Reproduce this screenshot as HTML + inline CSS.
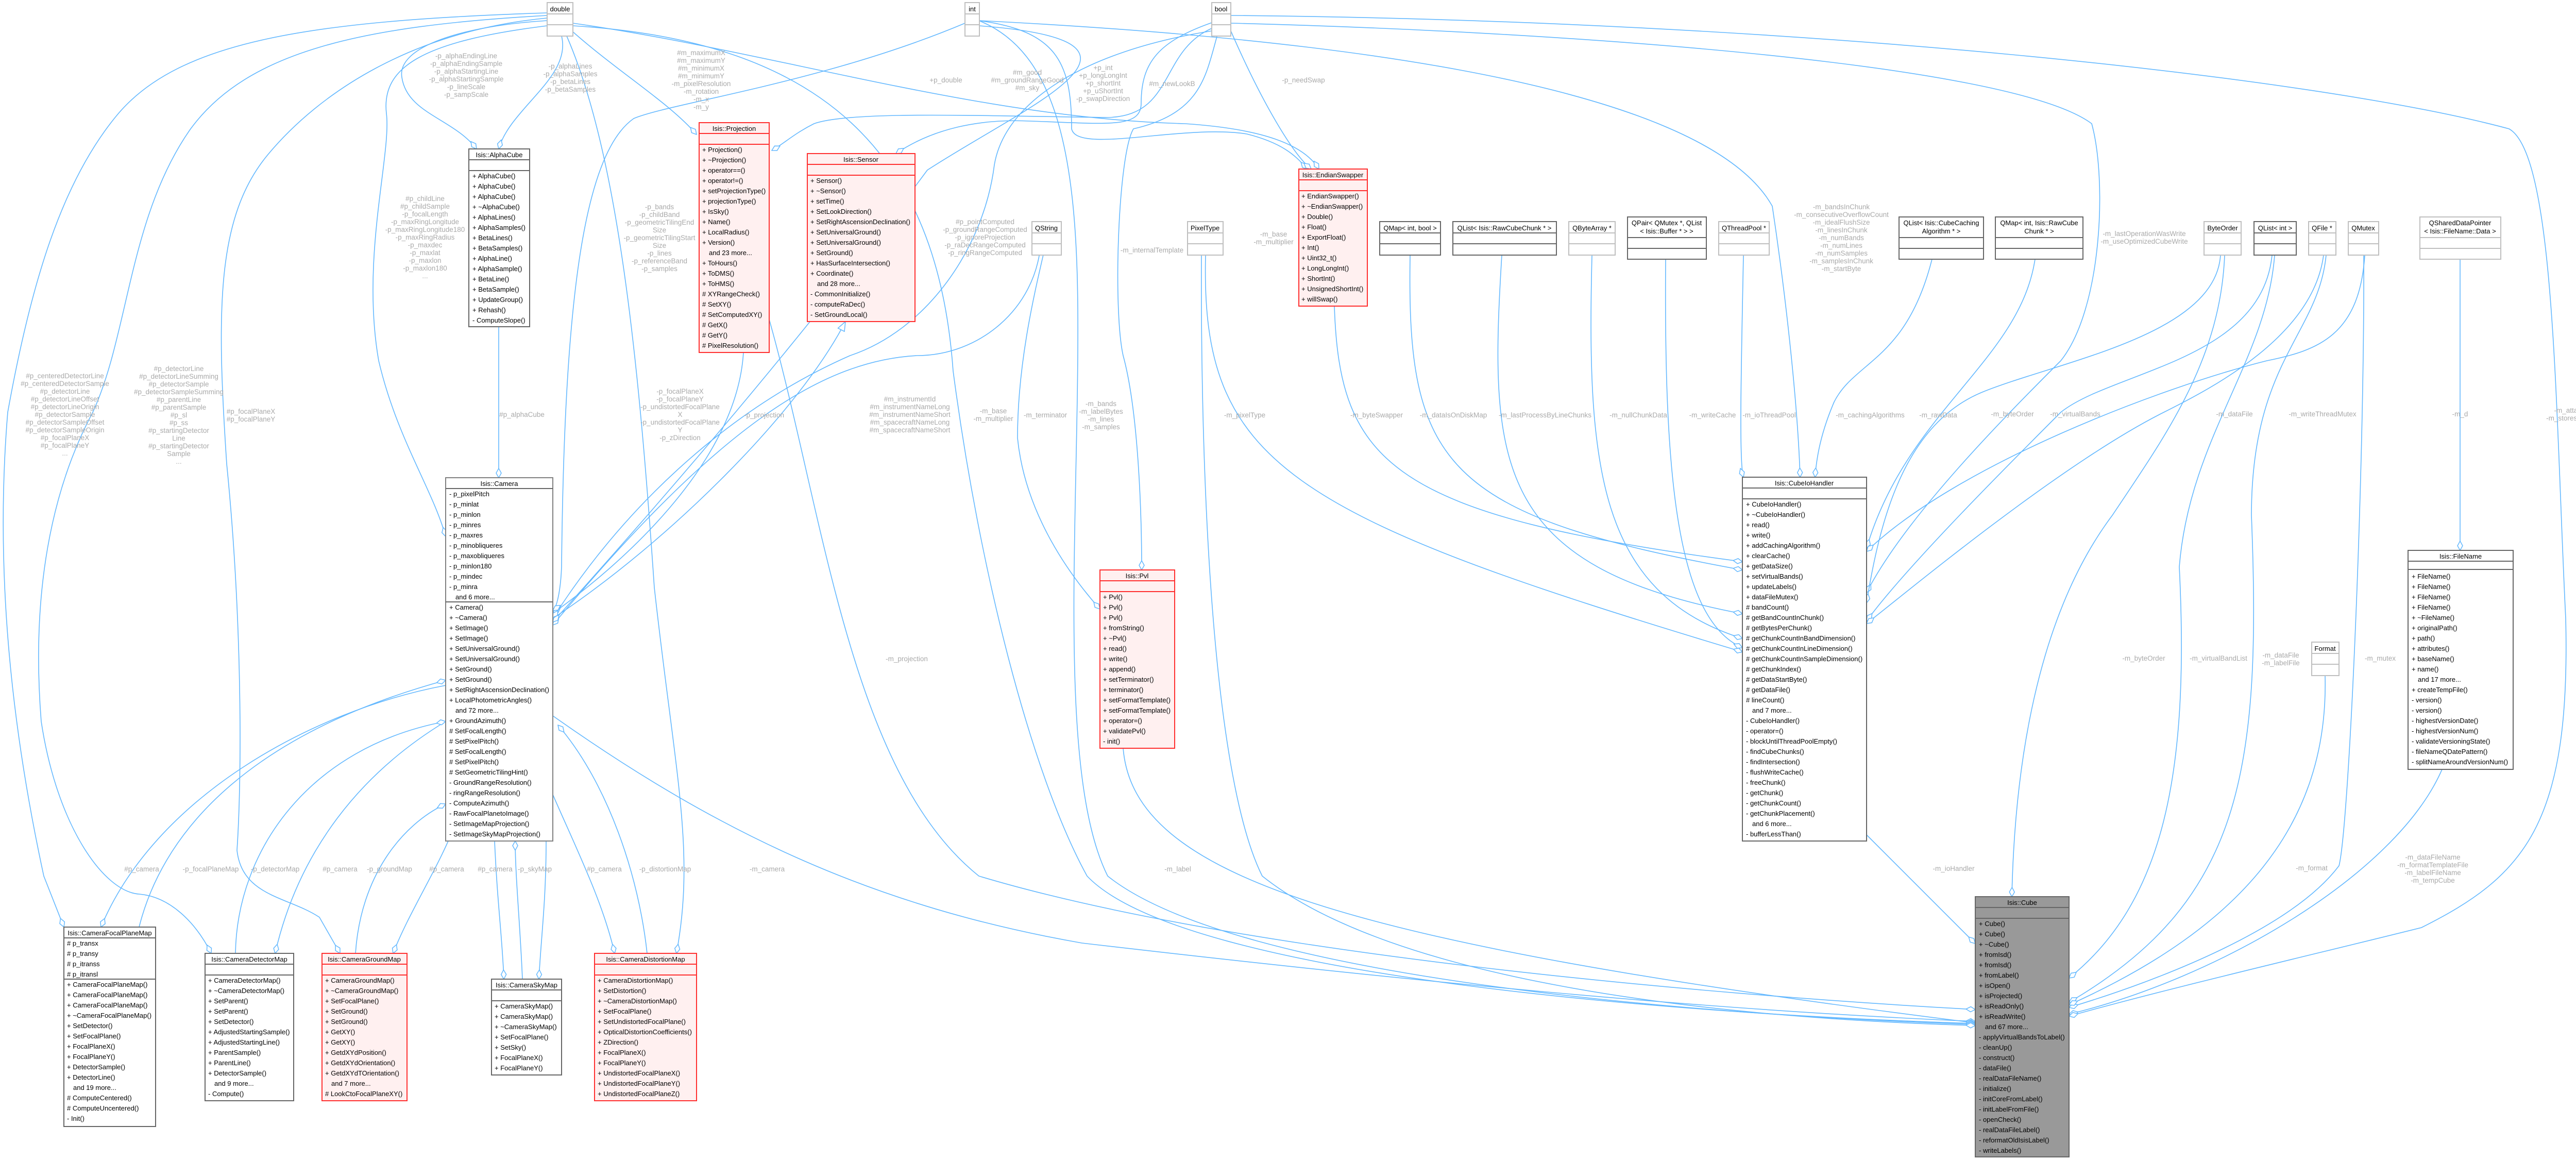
<!DOCTYPE html>
<html><head><meta charset="utf-8"><style>
html,body{margin:0;padding:0;background:#fff;}
svg{display:block;}
.t{font-family:"Liberation Sans",sans-serif;font-size:13px;fill:#000;}
.c{text-anchor:middle;}
.l{font-family:"Liberation Sans",sans-serif;font-size:13.5px;fill:#aaaaaa;text-anchor:middle;}
.e{fill:none;stroke:#63b8ff;stroke-width:1.6;}
.g{fill:#fff;stroke:#bfbfbf;stroke-width:2;}
.k{fill:#fff;stroke:#666;stroke-width:2;}
.r{fill:#fff0f0;stroke:#ff3030;stroke-width:2;}
.cu{fill:#999;stroke:#666;stroke-width:2;}
.sg{stroke:#bfbfbf;stroke-width:2;}
.sk{stroke:#666;stroke-width:2;}
.sr{stroke:#ff3030;stroke-width:2;}
</style></head><body>
<svg width="5049" height="2251" viewBox="0 0 5049 2251" xmlns="http://www.w3.org/2000/svg">
<defs>
<marker id="d" markerWidth="20" markerHeight="12" refX="19" refY="6" orient="auto" markerUnits="userSpaceOnUse"><path d="M1,6 L10,1 L19,6 L10,11 Z" fill="#fff" stroke="#63b8ff" stroke-width="1.5"/></marker>
<marker id="tri" markerWidth="20" markerHeight="16" refX="19" refY="8" orient="auto" markerUnits="userSpaceOnUse"><path d="M1,1 L19,8 L1,15 Z" fill="#fff" stroke="#63b8ff" stroke-width="1.5"/></marker>
</defs>

<!-- EDGES -->
<g class="e" marker-end="url(#d)">
<path d="M1090,70 C1110,150 990,210 968,289"/>
<path d="M1062,40 C900,50 770,90 780,150 C790,220 880,230 925,289"/>
<path d="M1062,50 C820,80 740,130 750,220 C760,300 700,500 735,700 C770,850 840,950 865,1041"/>
<path d="M1062,25 C600,40 350,80 230,220 C120,350 60,550 15,800 C-10,1100 20,1400 85,1700 L124,1799"/>
<path d="M1062,30 C700,50 480,100 370,250 C250,420 250,650 180,800 C100,950 60,1150 80,1400 C110,1600 200,1730 270,1735 C330,1740 380,1790 410,1850"/>
<path d="M1062,35 C800,60 620,180 520,300 C420,420 420,600 440,900 C470,1200 470,1500 460,1650 C470,1740 560,1740 620,1780 L660,1850"/>
<path d="M1110,60 C1200,140 1300,200 1352,261"/>
<path d="M1100,70 C1200,300 1240,700 1270,1140 C1310,1500 1350,1650 1313,1850"/>
<path d="M968,634 L968,927"/>
<path d="M1443,684 C1430,900 1200,1100 1073,1190"/>
<path d="M1873,45 C1600,160 1300,200 1230,230 C1130,300 1095,600 1090,1100 C1088,1150 1080,1180 1073,1185"/>
<path d="M2352,44 C2250,80 2215,120 2215,200 C2215,250 2150,240 2000,235 C1900,230 1810,250 1739,298"/>
<path d="M2352,55 C2250,100 2280,225 2150,228 C1900,225 1650,215 1580,240 C1540,260 1520,280 1498,292"/>
<path d="M2020,473 C2010,600 1900,690 1780,690 C1600,700 1400,820 1073,1213"/>
<path d="M2352,60 C2100,100 1950,200 1930,320 C1910,480 1800,640 1650,690 C1400,800 1200,1000 1073,1200"/>
<path d="M1900,50 C2300,80 2000,200 1800,330 C1600,600 1350,900 1073,1207"/>
<path d="M865,1330 C600,1380 300,1550 196,1799"/>
<path d="M270,1799 C320,1600 500,1420 865,1320"/>
<path d="M865,1400 C700,1500 580,1650 534,1850"/>
<path d="M457,1850 C460,1650 600,1450 865,1400"/>
<path d="M870,1632 C840,1700 790,1780 763,1850"/>
<path d="M690,1850 C700,1700 780,1600 865,1560"/>
<path d="M960,1632 C965,1750 975,1820 978,1900"/>
<path d="M1060,1632 C1060,1750 1050,1820 1046,1900"/>
<path d="M1014,1900 C1010,1800 1000,1700 1000,1632"/>
<path d="M1073,1542 C1120,1650 1170,1750 1193,1850"/>
<path d="M1256,1850 C1240,1700 1180,1520 1083,1407"/>
<path d="M1900,40 C2050,60 2080,120 2080,250 C2090,300 2300,240 2420,260 C2500,280 2520,310 2538,328"/>
<path d="M1112,45 C1500,100 1900,230 2300,240 C2450,250 2530,280 2560,328"/>
<path d="M2389,60 C2450,200 2510,300 2545,328"/>
<path d="M2030,473 C2010,560 1975,700 1975,850 C1990,1000 2080,1120 2135,1182"/>
<path d="M2362,71 C2340,150 2330,220 2200,250 C2170,300 2160,600 2180,690 C2210,800 2216,1000 2216,1106"/>
<path d="M2737,495 C2730,900 2800,1000 3382,1106"/>
<path d="M2915,495 C2890,900 2900,1100 3382,1191"/>
<path d="M3090,495 C3080,900 3100,1150 3382,1239"/>
<path d="M3233,503 C3230,900 3250,1200 3382,1257"/>
<path d="M3384,495 C3380,700 3375,900 3384,926"/>
<path d="M2590,594 C2600,900 2700,1000 3382,1090"/>
<path d="M2340,495 C2330,900 2500,1000 3382,1265"/>
<path d="M1900,40 C2500,70 3300,150 3440,400 C3470,600 3490,800 3494,926"/>
<path d="M3750,503 C3700,700 3600,700 3560,780 C3530,850 3525,900 3523,926"/>
<path d="M3950,503 C3920,700 3700,800 3623,1064"/>
<path d="M2389,45 C3000,60 3900,120 4060,240 C4090,350 4080,600 4000,700 C3900,800 3700,1000 3623,1150"/>
<path d="M4310,495 C4300,650 4000,700 3850,760 C3700,820 3650,1000 3623,1170"/>
<path d="M4410,495 C4390,700 4100,720 4000,800 C3900,900 3700,1100 3623,1205"/>
<path d="M4510,495 C4490,650 4300,750 4200,800 C4000,900 3700,1150 3623,1210"/>
<path d="M4590,495 C4580,650 4500,680 4400,700 C4200,750 3800,900 3623,1070"/>
<path d="M4318,495 C4310,700 4200,850 4100,1000 C3950,1200 3910,1500 3905,1740"/>
<path d="M4415,495 C4400,700 4250,850 4230,1100 C4250,1500 4200,1750 4016,1898"/>
<path d="M4515,495 C4500,650 4370,700 4370,1000 C4390,1500 4350,1750 4016,1945"/>
<path d="M4588,495 C4590,900 4560,1600 4540,1680 C4450,1800 4200,1900 4016,1955"/>
<path d="M4513,1312 C4520,1600 4350,1800 4016,1950"/>
<path d="M4740,1493 C4650,1700 4300,1900 4016,1968"/>
<path d="M2389,30 C3500,40 4500,150 4870,250 C4960,300 4960,800 4980,1200 C4990,1600 4900,1700 4700,1800 C4500,1850 4200,1920 4016,1972"/>
<path d="M4775,503 L4775,1068"/>
<path d="M3623,1620 L3834,1831"/>
<path d="M1493,620 C1600,1000 1650,1500 1900,1700 C2400,1850 3300,1930 3834,1959"/>
<path d="M1073,1389 C1400,1620 1700,1760 2100,1830 C2700,1900 3300,1960 3834,1982"/>
<path d="M2180,1452 C2200,1700 2600,1830 3834,1985"/>
<path d="M1112,50 C1600,80 1820,300 1850,720 C1900,1100 2000,1500 2110,1700 C2300,1900 3300,1970 3834,1986"/>
<path d="M1900,40 C2050,100 2090,300 2092,600 C2095,1000 2050,1500 2150,1700 C2400,1900 3300,1970 3834,1988"/>
<path d="M2332,495 C2330,900 2350,1500 2450,1700 C2700,1900 3300,1975 3834,1990"/>
</g>
<path class="e" marker-end="url(#tri)" d="M1073,1200 C1300,1050 1550,800 1641,624"/>

<!-- LABELS -->
<text class="l" x="1107" y="133">-p_alphaLines<tspan x="1107" dy="15">-p_alphaSamples</tspan><tspan x="1107" dy="15">-p_betaLines</tspan><tspan x="1107" dy="15">-p_betaSamples</tspan></text>
<text class="l" x="905" y="113">-p_alphaEndingLine<tspan x="905" dy="15">-p_alphaEndingSample</tspan><tspan x="905" dy="15">-p_alphaStartingLine</tspan><tspan x="905" dy="15">-p_alphaStartingSample</tspan><tspan x="905" dy="15">-p_lineScale</tspan><tspan x="905" dy="15">-p_sampScale</tspan></text>
<text class="l" x="1361" y="107">#m_maximumX<tspan x="1361" dy="15">#m_maximumY</tspan><tspan x="1361" dy="15">#m_minimumX</tspan><tspan x="1361" dy="15">#m_minimumY</tspan><tspan x="1361" dy="15">-m_pixelResolution</tspan><tspan x="1361" dy="15">-m_rotation</tspan><tspan x="1361" dy="15">-m_x</tspan><tspan x="1361" dy="15">-m_y</tspan></text>
<text class="l" x="1836" y="160">+p_double</text>
<text class="l" x="1994" y="145">#m_good<tspan x="1994" dy="15">#m_groundRangeGood</tspan><tspan x="1994" dy="15">#m_sky</tspan></text>
<text class="l" x="2141" y="136">+p_int<tspan x="2141" dy="15">+p_longLongInt</tspan><tspan x="2141" dy="15">+p_shortInt</tspan><tspan x="2141" dy="15">+p_uShortInt</tspan><tspan x="2141" dy="15">-p_swapDirection</tspan></text>
<text class="l" x="2275" y="167">#m_newLookB</text>
<text class="l" x="2530" y="160">-p_needSwap</text>
<text class="l" x="825" y="390">#p_childLine<tspan x="825" dy="15">#p_childSample</tspan><tspan x="825" dy="15">-p_focalLength</tspan><tspan x="825" dy="15">-p_maxRingLongitude</tspan><tspan x="825" dy="15">-p_maxRingLongitude180</tspan><tspan x="825" dy="15">-p_maxRingRadius</tspan><tspan x="825" dy="15">-p_maxdec</tspan><tspan x="825" dy="15">-p_maxlat</tspan><tspan x="825" dy="15">-p_maxlon</tspan><tspan x="825" dy="15">-p_maxlon180</tspan><tspan x="825" dy="15">...</tspan></text>
<text class="l" x="1280" y="406">-p_bands<tspan x="1280" dy="15">-p_childBand</tspan><tspan x="1280" dy="15">-p_geometricTilingEnd</tspan><tspan x="1280" dy="15">Size</tspan><tspan x="1280" dy="15">-p_geometricTilingStart</tspan><tspan x="1280" dy="15">Size</tspan><tspan x="1280" dy="15">-p_lines</tspan><tspan x="1280" dy="15">-p_referenceBand</tspan><tspan x="1280" dy="15">-p_samples</tspan></text>
<text class="l" x="1912" y="435">#p_pointComputed<tspan x="1912" dy="15">-p_groundRangeComputed</tspan><tspan x="1912" dy="15">-p_ignoreProjection</tspan><tspan x="1912" dy="15">-p_raDecRangeComputed</tspan><tspan x="1912" dy="15">-p_ringRangeComputed</tspan></text>
<text class="l" x="2236" y="490">-m_internalTemplate</text>
<text class="l" x="2472" y="459">-m_base<tspan x="2472" dy="15">-m_multiplier</tspan></text>
<text class="l" x="3574" y="406">-m_bandsInChunk<tspan x="3574" dy="15">-m_consecutiveOverflowCount</tspan><tspan x="3574" dy="15">-m_idealFlushSize</tspan><tspan x="3574" dy="15">-m_linesInChunk</tspan><tspan x="3574" dy="15">-m_numBands</tspan><tspan x="3574" dy="15">-m_numLines</tspan><tspan x="3574" dy="15">-m_numSamples</tspan><tspan x="3574" dy="15">-m_samplesInChunk</tspan><tspan x="3574" dy="15">-m_startByte</tspan></text>
<text class="l" x="4162" y="458">-m_lastOperationWasWrite<tspan x="4162" dy="15">-m_useOptimizedCubeWrite</tspan></text>
<text class="l" x="126" y="734">#p_centeredDetectorLine<tspan x="126" dy="15">#p_centeredDetectorSample</tspan><tspan x="126" dy="15">#p_detectorLine</tspan><tspan x="126" dy="15">#p_detectorLineOffset</tspan><tspan x="126" dy="15">#p_detectorLineOrigin</tspan><tspan x="126" dy="15">#p_detectorSample</tspan><tspan x="126" dy="15">#p_detectorSampleOffset</tspan><tspan x="126" dy="15">#p_detectorSampleOrigin</tspan><tspan x="126" dy="15">#p_focalPlaneX</tspan><tspan x="126" dy="15">#p_focalPlaneY</tspan><tspan x="126" dy="15">...</tspan></text>
<text class="l" x="347" y="720">#p_detectorLine<tspan x="347" dy="15">#p_detectorLineSumming</tspan><tspan x="347" dy="15">#p_detectorSample</tspan><tspan x="347" dy="15">#p_detectorSampleSumming</tspan><tspan x="347" dy="15">#p_parentLine</tspan><tspan x="347" dy="15">#p_parentSample</tspan><tspan x="347" dy="15">#p_sl</tspan><tspan x="347" dy="15">#p_ss</tspan><tspan x="347" dy="15">#p_startingDetector</tspan><tspan x="347" dy="15">Line</tspan><tspan x="347" dy="15">#p_startingDetector</tspan><tspan x="347" dy="15">Sample</tspan><tspan x="347" dy="15">...</tspan></text>
<text class="l" x="487" y="803">#p_focalPlaneX<tspan x="487" dy="15">#p_focalPlaneY</tspan></text>
<text class="l" x="1013" y="809">#p_alphaCube</text>
<text class="l" x="1320" y="764">-p_focalPlaneX<tspan x="1320" dy="15">-p_focalPlaneY</tspan><tspan x="1320" dy="15">-p_undistortedFocalPlane</tspan><tspan x="1320" dy="15">X</tspan><tspan x="1320" dy="15">-p_undistortedFocalPlane</tspan><tspan x="1320" dy="15">Y</tspan><tspan x="1320" dy="15">-p_zDirection</tspan></text>
<text class="l" x="1483" y="810">-p_projection</text>
<text class="l" x="1766" y="779">#m_instrumentId<tspan x="1766" dy="15">#m_instrumentNameLong</tspan><tspan x="1766" dy="15">#m_instrumentNameShort</tspan><tspan x="1766" dy="15">#m_spacecraftNameLong</tspan><tspan x="1766" dy="15">#m_spacecraftNameShort</tspan></text>
<text class="l" x="1928" y="802">-m_base<tspan x="1928" dy="15">-m_multiplier</tspan></text>
<text class="l" x="2029" y="810">-m_terminator</text>
<text class="l" x="2137" y="788">-m_bands<tspan x="2137" dy="15">-m_labelBytes</tspan><tspan x="2137" dy="15">-m_lines</tspan><tspan x="2137" dy="15">-m_samples</tspan></text>
<text class="l" x="2416" y="810">-m_pixelType</text>
<text class="l" x="2672" y="810">-m_byteSwapper</text>
<text class="l" x="2821" y="810">-m_dataIsOnDiskMap</text>
<text class="l" x="2999" y="810">-m_lastProcessByLineChunks</text>
<text class="l" x="3180" y="810">-m_nullChunkData</text>
<text class="l" x="3324" y="810">-m_writeCache</text>
<text class="l" x="3434" y="810">-m_ioThreadPool</text>
<text class="l" x="3630" y="810">-m_cachingAlgorithms</text>
<text class="l" x="3762" y="810">-m_rawData</text>
<text class="l" x="3906" y="808">-m_byteOrder</text>
<text class="l" x="4028" y="808">-m_virtualBands</text>
<text class="l" x="4337" y="808">-m_dataFile</text>
<text class="l" x="4508" y="808">-m_writeThreadMutex</text>
<text class="l" x="4775" y="808">-m_d</text>
<text class="l" x="4995" y="801">-m_attached<tspan x="4995" dy="15">-m_storesDnData</tspan></text>
<text class="l" x="1760" y="1283">-m_projection</text>
<text class="l" x="4161" y="1282">-m_byteOrder</text>
<text class="l" x="4306" y="1282">-m_virtualBandList</text>
<text class="l" x="4427" y="1276">-m_dataFile<tspan x="4427" dy="15">-m_labelFile</tspan></text>
<text class="l" x="4620" y="1282">-m_mutex</text>
<text class="l" x="275" y="1691">#p_camera</text>
<text class="l" x="409" y="1691">-p_focalPlaneMap</text>
<text class="l" x="534" y="1691">-p_detectorMap</text>
<text class="l" x="660" y="1691">#p_camera</text>
<text class="l" x="756" y="1691">-p_groundMap</text>
<text class="l" x="867" y="1691">#p_camera</text>
<text class="l" x="961" y="1691">#p_camera</text>
<text class="l" x="1038" y="1691">-p_skyMap</text>
<text class="l" x="1173" y="1691">#p_camera</text>
<text class="l" x="1291" y="1691">-p_distortionMap</text>
<text class="l" x="1489" y="1691">-m_camera</text>
<text class="l" x="2286" y="1691">-m_label</text>
<text class="l" x="3792" y="1690">-m_ioHandler</text>
<text class="l" x="4487" y="1689">-m_format</text>
<text class="l" x="4722" y="1668">-m_dataFileName<tspan x="4722" dy="15">-m_formatTemplateFile</tspan><tspan x="4722" dy="15">-m_labelFileName</tspan><tspan x="4722" dy="15">-m_tempCube</tspan></text>

<!-- SIMPLE TYPE NODES -->
<g>
<rect class="g" x="1062" y="5" width="50" height="65"/><text class="t c" x="1087" y="22">double</text><line class="sg" x1="1062" y1="27" x2="1112" y2="27"/><line class="sg" x1="1062" y1="48" x2="1112" y2="48"/>
<rect class="g" x="1873" y="5" width="28" height="65"/><text class="t c" x="1887" y="22">int</text><line class="sg" x1="1873" y1="27" x2="1901" y2="27"/><line class="sg" x1="1873" y1="48" x2="1901" y2="48"/>
<rect class="g" x="2352" y="5" width="37" height="65"/><text class="t c" x="2370" y="22">bool</text><line class="sg" x1="2352" y1="27" x2="2389" y2="27"/><line class="sg" x1="2352" y1="48" x2="2389" y2="48"/>
<rect class="g" x="2003" y="430" width="57" height="65"/><text class="t c" x="2031" y="447">QString</text><line class="sg" x1="2003" y1="452" x2="2060" y2="452"/><line class="sg" x1="2003" y1="473" x2="2060" y2="473"/>
<rect class="g" x="2305" y="430" width="69" height="65"/><text class="t c" x="2339" y="447">PixelType</text><line class="sg" x1="2305" y1="452" x2="2374" y2="452"/><line class="sg" x1="2305" y1="473" x2="2374" y2="473"/>
<rect class="k" x="2678" y="430" width="118" height="65"/><text class="t c" x="2737" y="447">QMap&lt; int, bool &gt;</text><line class="sk" x1="2678" y1="452" x2="2796" y2="452"/><line class="sk" x1="2678" y1="473" x2="2796" y2="473"/>
<rect class="k" x="2820" y="430" width="201" height="65"/><text class="t c" x="2920" y="447">QList&lt; Isis::RawCubeChunk * &gt;</text><line class="sk" x1="2820" y1="452" x2="3021" y2="452"/><line class="sk" x1="2820" y1="473" x2="3021" y2="473"/>
<rect class="g" x="3045" y="430" width="90" height="65"/><text class="t c" x="3090" y="447">QByteArray *</text><line class="sg" x1="3045" y1="452" x2="3135" y2="452"/><line class="sg" x1="3045" y1="473" x2="3135" y2="473"/>
<rect class="k" x="3159" y="421" width="153" height="82"/><text class="t c" x="3235" y="437">QPair&lt; QMutex *, QList</text><text class="t c" x="3235" y="453">&lt; Isis::Buffer * &gt; &gt;</text><line class="sk" x1="3159" y1="461" x2="3312" y2="461"/><line class="sk" x1="3159" y1="482" x2="3312" y2="482"/>
<rect class="g" x="3336" y="430" width="98" height="65"/><text class="t c" x="3385" y="447">QThreadPool *</text><line class="sg" x1="3336" y1="452" x2="3434" y2="452"/><line class="sg" x1="3336" y1="473" x2="3434" y2="473"/>
<rect class="k" x="3686" y="421" width="164" height="82"/><text class="t c" x="3768" y="437">QList&lt; Isis::CubeCaching</text><text class="t c" x="3768" y="453">Algorithm * &gt;</text><line class="sk" x1="3686" y1="461" x2="3850" y2="461"/><line class="sk" x1="3686" y1="482" x2="3850" y2="482"/>
<rect class="k" x="3873" y="421" width="170" height="82"/><text class="t c" x="3958" y="437">QMap&lt; int, Isis::RawCube</text><text class="t c" x="3958" y="453">Chunk * &gt;</text><line class="sk" x1="3873" y1="461" x2="4043" y2="461"/><line class="sk" x1="3873" y1="482" x2="4043" y2="482"/>
<rect class="g" x="4278" y="430" width="72" height="65"/><text class="t c" x="4314" y="447">ByteOrder</text><line class="sg" x1="4278" y1="452" x2="4350" y2="452"/><line class="sg" x1="4278" y1="473" x2="4350" y2="473"/>
<rect class="k" x="4375" y="430" width="82" height="65"/><text class="t c" x="4416" y="447">QList&lt; int &gt;</text><line class="sk" x1="4375" y1="452" x2="4457" y2="452"/><line class="sk" x1="4375" y1="473" x2="4457" y2="473"/>
<rect class="g" x="4481" y="430" width="53" height="65"/><text class="t c" x="4507" y="447">QFile *</text><line class="sg" x1="4481" y1="452" x2="4534" y2="452"/><line class="sg" x1="4481" y1="473" x2="4534" y2="473"/>
<rect class="g" x="4558" y="430" width="59" height="65"/><text class="t c" x="4587" y="447">QMutex</text><line class="sg" x1="4558" y1="452" x2="4617" y2="452"/><line class="sg" x1="4558" y1="473" x2="4617" y2="473"/>
<rect class="g" x="4697" y="421" width="157" height="82"/><text class="t c" x="4775" y="437">QSharedDataPointer</text><text class="t c" x="4775" y="453">&lt; Isis::FileName::Data &gt;</text><line class="sg" x1="4697" y1="461" x2="4854" y2="461"/><line class="sg" x1="4697" y1="482" x2="4854" y2="482"/>
<rect class="g" x="4487" y="1246" width="53" height="65"/><text class="t c" x="4513" y="1263">Format</text><line class="sg" x1="4487" y1="1268" x2="4540" y2="1268"/><line class="sg" x1="4487" y1="1289" x2="4540" y2="1289"/>
</g>

<!-- AlphaCube -->
<rect class="k" x="910" y="289" width="118" height="345"/>
<text class="t c" x="969" y="305">Isis::AlphaCube</text>
<line class="sk" x1="910" y1="310" x2="1028" y2="310"/><line class="sk" x1="910" y1="331" x2="1028" y2="331"/>
<text class="t" x="917" y="346">+ AlphaCube()</text><text class="t" x="917" y="366">+ AlphaCube()</text><text class="t" x="917" y="386">+ AlphaCube()</text><text class="t" x="917" y="406">+ ~AlphaCube()</text><text class="t" x="917" y="426">+ AlphaLines()</text><text class="t" x="917" y="446">+ AlphaSamples()</text><text class="t" x="917" y="466">+ BetaLines()</text><text class="t" x="917" y="486">+ BetaSamples()</text><text class="t" x="917" y="506">+ AlphaLine()</text><text class="t" x="917" y="526">+ AlphaSample()</text><text class="t" x="917" y="546">+ BetaLine()</text><text class="t" x="917" y="566">+ BetaSample()</text><text class="t" x="917" y="586">+ UpdateGroup()</text><text class="t" x="917" y="606">+ Rehash()</text><text class="t" x="917" y="626">-  ComputeSlope()</text>

<!-- Projection -->
<rect class="r" x="1357" y="238" width="136" height="446"/>
<text class="t c" x="1425" y="254">Isis::Projection</text>
<line class="sr" x1="1357" y1="259" x2="1493" y2="259"/><line class="sr" x1="1357" y1="280" x2="1493" y2="280"/>
<text class="t" x="1363" y="295">+ Projection()</text><text class="t" x="1363" y="315">+ ~Projection()</text><text class="t" x="1363" y="335">+ operator==()</text><text class="t" x="1363" y="355">+ operator!=()</text><text class="t" x="1363" y="375">+ setProjectionType()</text><text class="t" x="1363" y="395">+ projectionType()</text><text class="t" x="1363" y="415">+ IsSky()</text><text class="t" x="1363" y="435">+ Name()</text><text class="t" x="1363" y="455">+ LocalRadius()</text><text class="t" x="1363" y="475">+ Version()</text><text class="t" x="1376" y="495">and 23 more...</text><text class="t" x="1363" y="515">+ ToHours()</text><text class="t" x="1363" y="535">+ ToDMS()</text><text class="t" x="1363" y="555">+ ToHMS()</text><text class="t" x="1363" y="575"># XYRangeCheck()</text><text class="t" x="1363" y="595"># SetXY()</text><text class="t" x="1363" y="615"># SetComputedXY()</text><text class="t" x="1363" y="635"># GetX()</text><text class="t" x="1363" y="655"># GetY()</text><text class="t" x="1363" y="675"># PixelResolution()</text>

<!-- Sensor -->
<rect class="r" x="1567" y="298" width="209" height="326"/>
<text class="t c" x="1671" y="314">Isis::Sensor</text>
<line class="sr" x1="1567" y1="319" x2="1776" y2="319"/><line class="sr" x1="1567" y1="340" x2="1776" y2="340"/>
<text class="t" x="1573" y="355">+ Sensor()</text><text class="t" x="1573" y="375">+ ~Sensor()</text><text class="t" x="1573" y="395">+ setTime()</text><text class="t" x="1573" y="415">+ SetLookDirection()</text><text class="t" x="1573" y="435">+ SetRightAscensionDeclination()</text><text class="t" x="1573" y="455">+ SetUniversalGround()</text><text class="t" x="1573" y="475">+ SetUniversalGround()</text><text class="t" x="1573" y="495">+ SetGround()</text><text class="t" x="1573" y="515">+ HasSurfaceIntersection()</text><text class="t" x="1573" y="535">+ Coordinate()</text><text class="t" x="1586" y="555">and 28 more...</text><text class="t" x="1573" y="575">-  CommonInitialize()</text><text class="t" x="1573" y="595">-  computeRaDec()</text><text class="t" x="1573" y="615">-  SetGroundLocal()</text>

<!-- EndianSwapper -->
<rect class="r" x="2521" y="328" width="133" height="266"/>
<text class="t c" x="2587" y="344">Isis::EndianSwapper</text>
<line class="sr" x1="2521" y1="349" x2="2654" y2="349"/><line class="sr" x1="2521" y1="370" x2="2654" y2="370"/>
<text class="t" x="2526" y="385">+ EndianSwapper()</text><text class="t" x="2526" y="405">+ ~EndianSwapper()</text><text class="t" x="2526" y="425">+ Double()</text><text class="t" x="2526" y="445">+ Float()</text><text class="t" x="2526" y="465">+ ExportFloat()</text><text class="t" x="2526" y="485">+ Int()</text><text class="t" x="2526" y="505">+ Uint32_t()</text><text class="t" x="2526" y="525">+ LongLongInt()</text><text class="t" x="2526" y="545">+ ShortInt()</text><text class="t" x="2526" y="565">+ UnsignedShortInt()</text><text class="t" x="2526" y="585">+ willSwap()</text>

<!-- Camera -->
<rect class="k" x="865" y="927" width="208" height="705" style="stroke:#808080"/>
<text class="t c" x="969" y="943">Isis::Camera</text>
<line class="sk" x1="865" y1="948" x2="1073" y2="948"/><line class="sk" x1="865" y1="1168" x2="1073" y2="1168"/>
<text class="t" x="872" y="963">-  p_pixelPitch</text><text class="t" x="872" y="983">-  p_minlat</text><text class="t" x="872" y="1003">-  p_minlon</text><text class="t" x="872" y="1023">-  p_minres</text><text class="t" x="872" y="1043">-  p_maxres</text><text class="t" x="872" y="1063">-  p_minobliqueres</text><text class="t" x="872" y="1083">-  p_maxobliqueres</text><text class="t" x="872" y="1103">-  p_minlon180</text><text class="t" x="872" y="1123">-  p_mindec</text><text class="t" x="872" y="1143">-  p_minra</text><text class="t" x="884" y="1163">and 6 more...</text>
<text class="t" x="872" y="1183">+ Camera()</text><text class="t" x="872" y="1203">+ ~Camera()</text><text class="t" x="872" y="1223">+ SetImage()</text><text class="t" x="872" y="1243">+ SetImage()</text><text class="t" x="872" y="1263">+ SetUniversalGround()</text><text class="t" x="872" y="1283">+ SetUniversalGround()</text><text class="t" x="872" y="1303">+ SetGround()</text><text class="t" x="872" y="1323">+ SetGround()</text><text class="t" x="872" y="1343">+ SetRightAscensionDeclination()</text><text class="t" x="872" y="1363">+ LocalPhotometricAngles()</text><text class="t" x="884" y="1383">and 72 more...</text><text class="t" x="872" y="1403">+ GroundAzimuth()</text><text class="t" x="872" y="1423"># SetFocalLength()</text><text class="t" x="872" y="1443"># SetPixelPitch()</text><text class="t" x="872" y="1463"># SetFocalLength()</text><text class="t" x="872" y="1483"># SetPixelPitch()</text><text class="t" x="872" y="1503"># SetGeometricTilingHint()</text><text class="t" x="872" y="1523">-  GroundRangeResolution()</text><text class="t" x="872" y="1543">-  ringRangeResolution()</text><text class="t" x="872" y="1563">-  ComputeAzimuth()</text><text class="t" x="872" y="1583">-  RawFocalPlanetoImage()</text><text class="t" x="872" y="1603">-  SetImageMapProjection()</text><text class="t" x="872" y="1623">-  SetImageSkyMapProjection()</text>

<!-- Pvl -->
<rect class="r" x="2135" y="1106" width="145" height="346"/>
<text class="t c" x="2207" y="1122">Isis::Pvl</text>
<line class="sr" x1="2135" y1="1127" x2="2280" y2="1127"/><line class="sr" x1="2135" y1="1148" x2="2280" y2="1148"/>
<text class="t" x="2141" y="1163">+ Pvl()</text><text class="t" x="2141" y="1183">+ Pvl()</text><text class="t" x="2141" y="1203">+ Pvl()</text><text class="t" x="2141" y="1223">+ fromString()</text><text class="t" x="2141" y="1243">+ ~Pvl()</text><text class="t" x="2141" y="1263">+ read()</text><text class="t" x="2141" y="1283">+ write()</text><text class="t" x="2141" y="1303">+ append()</text><text class="t" x="2141" y="1323">+ setTerminator()</text><text class="t" x="2141" y="1343">+ terminator()</text><text class="t" x="2141" y="1363">+ setFormatTemplate()</text><text class="t" x="2141" y="1383">+ setFormatTemplate()</text><text class="t" x="2141" y="1403">+ operator=()</text><text class="t" x="2141" y="1423">+ validatePvl()</text><text class="t" x="2141" y="1443">-  init()</text>

<!-- CubeIoHandler -->
<rect class="k" x="3382" y="926" width="241" height="706"/>
<text class="t c" x="3502" y="942">Isis::CubeIoHandler</text>
<line class="sk" x1="3382" y1="947" x2="3623" y2="947"/><line class="sk" x1="3382" y1="968" x2="3623" y2="968"/>
<text class="t" x="3389" y="983">+ CubeIoHandler()</text><text class="t" x="3389" y="1003">+ ~CubeIoHandler()</text><text class="t" x="3389" y="1023">+ read()</text><text class="t" x="3389" y="1043">+ write()</text><text class="t" x="3389" y="1063">+ addCachingAlgorithm()</text><text class="t" x="3389" y="1083">+ clearCache()</text><text class="t" x="3389" y="1103">+ getDataSize()</text><text class="t" x="3389" y="1123">+ setVirtualBands()</text><text class="t" x="3389" y="1143">+ updateLabels()</text><text class="t" x="3389" y="1163">+ dataFileMutex()</text><text class="t" x="3389" y="1183"># bandCount()</text><text class="t" x="3389" y="1203"># getBandCountInChunk()</text><text class="t" x="3389" y="1223"># getBytesPerChunk()</text><text class="t" x="3389" y="1243"># getChunkCountInBandDimension()</text><text class="t" x="3389" y="1263"># getChunkCountInLineDimension()</text><text class="t" x="3389" y="1283"># getChunkCountInSampleDimension()</text><text class="t" x="3389" y="1303"># getChunkIndex()</text><text class="t" x="3389" y="1323"># getDataStartByte()</text><text class="t" x="3389" y="1343"># getDataFile()</text><text class="t" x="3389" y="1363"># lineCount()</text><text class="t" x="3401" y="1383">and 7 more...</text><text class="t" x="3389" y="1403">-  CubeIoHandler()</text><text class="t" x="3389" y="1423">-  operator=()</text><text class="t" x="3389" y="1443">-  blockUntilThreadPoolEmpty()</text><text class="t" x="3389" y="1463">-  findCubeChunks()</text><text class="t" x="3389" y="1483">-  findIntersection()</text><text class="t" x="3389" y="1503">-  flushWriteCache()</text><text class="t" x="3389" y="1523">-  freeChunk()</text><text class="t" x="3389" y="1543">-  getChunk()</text><text class="t" x="3389" y="1563">-  getChunkCount()</text><text class="t" x="3389" y="1583">-  getChunkPlacement()</text><text class="t" x="3401" y="1603">and 6 more...</text><text class="t" x="3389" y="1623">-  bufferLessThan()</text>

<!-- FileName -->
<rect class="k" x="4674" y="1068" width="204" height="425"/>
<text class="t c" x="4776" y="1084">Isis::FileName</text>
<line class="sk" x1="4674" y1="1089" x2="4878" y2="1089"/><line class="sk" x1="4674" y1="1105" x2="4878" y2="1105"/>
<text class="t" x="4681" y="1123">+ FileName()</text><text class="t" x="4681" y="1143">+ FileName()</text><text class="t" x="4681" y="1163">+ FileName()</text><text class="t" x="4681" y="1183">+ FileName()</text><text class="t" x="4681" y="1203">+ ~FileName()</text><text class="t" x="4681" y="1223">+ originalPath()</text><text class="t" x="4681" y="1243">+ path()</text><text class="t" x="4681" y="1263">+ attributes()</text><text class="t" x="4681" y="1283">+ baseName()</text><text class="t" x="4681" y="1303">+ name()</text><text class="t" x="4693" y="1323">and 17 more...</text><text class="t" x="4681" y="1343">+ createTempFile()</text><text class="t" x="4681" y="1363">-  version()</text><text class="t" x="4681" y="1383">-  version()</text><text class="t" x="4681" y="1403">-  highestVersionDate()</text><text class="t" x="4681" y="1423">-  highestVersionNum()</text><text class="t" x="4681" y="1443">-  validateVersioningState()</text><text class="t" x="4681" y="1463">-  fileNameQDatePattern()</text><text class="t" x="4681" y="1483">-  splitNameAroundVersionNum()</text>

<!-- CameraFocalPlaneMap -->
<rect class="k" x="124" y="1799" width="178" height="387"/>
<text class="t c" x="213" y="1815">Isis::CameraFocalPlaneMap</text>
<line class="sk" x1="124" y1="1820" x2="302" y2="1820"/><line class="sk" x1="124" y1="1900" x2="302" y2="1900"/>
<text class="t" x="130" y="1835"># p_transx</text><text class="t" x="130" y="1855"># p_transy</text><text class="t" x="130" y="1875"># p_itranss</text><text class="t" x="130" y="1895"># p_itransl</text>
<text class="t" x="130" y="1915">+ CameraFocalPlaneMap()</text><text class="t" x="130" y="1935">+ CameraFocalPlaneMap()</text><text class="t" x="130" y="1955">+ CameraFocalPlaneMap()</text><text class="t" x="130" y="1975">+ ~CameraFocalPlaneMap()</text><text class="t" x="130" y="1995">+ SetDetector()</text><text class="t" x="130" y="2015">+ SetFocalPlane()</text><text class="t" x="130" y="2035">+ FocalPlaneX()</text><text class="t" x="130" y="2055">+ FocalPlaneY()</text><text class="t" x="130" y="2075">+ DetectorSample()</text><text class="t" x="130" y="2095">+ DetectorLine()</text><text class="t" x="142" y="2115">and 19 more...</text><text class="t" x="130" y="2135"># ComputeCentered()</text><text class="t" x="130" y="2155"># ComputeUncentered()</text><text class="t" x="130" y="2175">-  Init()</text>

<!-- CameraDetectorMap -->
<rect class="k" x="398" y="1850" width="172" height="286"/>
<text class="t c" x="484" y="1866">Isis::CameraDetectorMap</text>
<line class="sk" x1="398" y1="1871" x2="570" y2="1871"/><line class="sk" x1="398" y1="1892" x2="570" y2="1892"/>
<text class="t" x="404" y="1907">+ CameraDetectorMap()</text><text class="t" x="404" y="1927">+ ~CameraDetectorMap()</text><text class="t" x="404" y="1947">+ SetParent()</text><text class="t" x="404" y="1967">+ SetParent()</text><text class="t" x="404" y="1987">+ SetDetector()</text><text class="t" x="404" y="2007">+ AdjustedStartingSample()</text><text class="t" x="404" y="2027">+ AdjustedStartingLine()</text><text class="t" x="404" y="2047">+ ParentSample()</text><text class="t" x="404" y="2067">+ ParentLine()</text><text class="t" x="404" y="2087">+ DetectorSample()</text><text class="t" x="416" y="2107">and 9 more...</text><text class="t" x="404" y="2127">-  Compute()</text>

<!-- CameraGroundMap -->
<rect class="r" x="625" y="1850" width="165" height="286"/>
<text class="t c" x="707" y="1866">Isis::CameraGroundMap</text>
<line class="sr" x1="625" y1="1871" x2="790" y2="1871"/><line class="sr" x1="625" y1="1892" x2="790" y2="1892"/>
<text class="t" x="631" y="1907">+ CameraGroundMap()</text><text class="t" x="631" y="1927">+ ~CameraGroundMap()</text><text class="t" x="631" y="1947">+ SetFocalPlane()</text><text class="t" x="631" y="1967">+ SetGround()</text><text class="t" x="631" y="1987">+ SetGround()</text><text class="t" x="631" y="2007">+ GetXY()</text><text class="t" x="631" y="2027">+ GetXY()</text><text class="t" x="631" y="2047">+ GetdXYdPosition()</text><text class="t" x="631" y="2067">+ GetdXYdOrientation()</text><text class="t" x="631" y="2087">+ GetdXYdTOrientation()</text><text class="t" x="643" y="2107">and 7 more...</text><text class="t" x="631" y="2127"># LookCtoFocalPlaneXY()</text>

<!-- CameraSkyMap -->
<rect class="k" x="954" y="1900" width="136" height="186"/>
<text class="t c" x="1022" y="1916">Isis::CameraSkyMap</text>
<line class="sk" x1="954" y1="1921" x2="1090" y2="1921"/><line class="sk" x1="954" y1="1942" x2="1090" y2="1942"/>
<text class="t" x="960" y="1957">+ CameraSkyMap()</text><text class="t" x="960" y="1977">+ CameraSkyMap()</text><text class="t" x="960" y="1997">+ ~CameraSkyMap()</text><text class="t" x="960" y="2017">+ SetFocalPlane()</text><text class="t" x="960" y="2037">+ SetSky()</text><text class="t" x="960" y="2057">+ FocalPlaneX()</text><text class="t" x="960" y="2077">+ FocalPlaneY()</text>

<!-- CameraDistortionMap -->
<rect class="r" x="1154" y="1850" width="198" height="286"/>
<text class="t c" x="1253" y="1866">Isis::CameraDistortionMap</text>
<line class="sr" x1="1154" y1="1871" x2="1352" y2="1871"/><line class="sr" x1="1154" y1="1892" x2="1352" y2="1892"/>
<text class="t" x="1160" y="1907">+ CameraDistortionMap()</text><text class="t" x="1160" y="1927">+ SetDistortion()</text><text class="t" x="1160" y="1947">+ ~CameraDistortionMap()</text><text class="t" x="1160" y="1967">+ SetFocalPlane()</text><text class="t" x="1160" y="1987">+ SetUndistortedFocalPlane()</text><text class="t" x="1160" y="2007">+ OpticalDistortionCoefficients()</text><text class="t" x="1160" y="2027">+ ZDirection()</text><text class="t" x="1160" y="2047">+ FocalPlaneX()</text><text class="t" x="1160" y="2067">+ FocalPlaneY()</text><text class="t" x="1160" y="2087">+ UndistortedFocalPlaneX()</text><text class="t" x="1160" y="2107">+ UndistortedFocalPlaneY()</text><text class="t" x="1160" y="2127">+ UndistortedFocalPlaneZ()</text>

<!-- Cube -->
<rect class="cu" x="3834" y="1740" width="182" height="505"/>
<text class="t c" x="3925" y="1756">Isis::Cube</text>
<line class="sk" x1="3834" y1="1761" x2="4016" y2="1761"/><line class="sk" x1="3834" y1="1782" x2="4016" y2="1782"/>
<text class="t" x="3841" y="1797">+ Cube()</text><text class="t" x="3841" y="1817">+ Cube()</text><text class="t" x="3841" y="1837">+ ~Cube()</text><text class="t" x="3841" y="1857">+ fromIsd()</text><text class="t" x="3841" y="1877">+ fromIsd()</text><text class="t" x="3841" y="1897">+ fromLabel()</text><text class="t" x="3841" y="1917">+ isOpen()</text><text class="t" x="3841" y="1937">+ isProjected()</text><text class="t" x="3841" y="1957">+ isReadOnly()</text><text class="t" x="3841" y="1977">+ isReadWrite()</text><text class="t" x="3853" y="1997">and 67 more...</text><text class="t" x="3841" y="2017">-  applyVirtualBandsToLabel()</text><text class="t" x="3841" y="2037">-  cleanUp()</text><text class="t" x="3841" y="2057">-  construct()</text><text class="t" x="3841" y="2077">-  dataFile()</text><text class="t" x="3841" y="2097">-  realDataFileName()</text><text class="t" x="3841" y="2117">-  initialize()</text><text class="t" x="3841" y="2137">-  initCoreFromLabel()</text><text class="t" x="3841" y="2157">-  initLabelFromFile()</text><text class="t" x="3841" y="2177">-  openCheck()</text><text class="t" x="3841" y="2197">-  realDataFileLabel()</text><text class="t" x="3841" y="2217">-  reformatOldIsisLabel()</text><text class="t" x="3841" y="2237">-  writeLabels()</text>
</svg>
</body></html>
